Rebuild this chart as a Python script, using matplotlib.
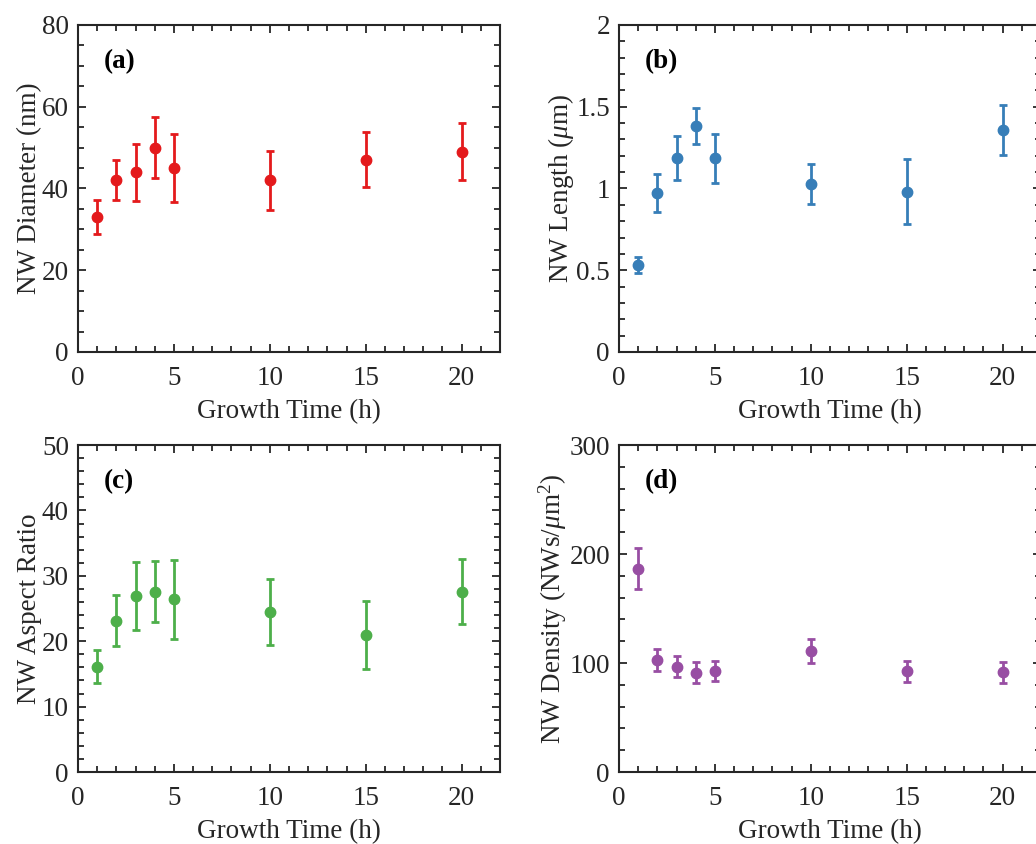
import matplotlib
matplotlib.use("Agg")
from matplotlib import pyplot as plt
from matplotlib.ticker import MultipleLocator

plt.rcParams['font.family'] = ['Liberation Serif', 'DejaVu Serif']
plt.rcParams['mathtext.fontset'] = 'custom'
plt.rcParams['mathtext.rm'] = 'Liberation Serif'
plt.rcParams['mathtext.it'] = 'Liberation Serif:italic'
plt.rcParams['font.size'] = 19.5

time_h = [1, 2, 3, 4, 5, 10, 15, 20]

diameter = [33, 42, 44, 50, 45, 42, 47, 49]
diameter_err = [4.2, 4.9, 7.0, 7.5, 8.4, 7.2, 6.7, 6.9]

length = [0.53, 0.97, 1.185, 1.38, 1.185, 1.025, 0.98, 1.355]
length_err = [0.05, 0.117, 0.133, 0.11, 0.15, 0.123, 0.2, 0.153]

aspect = [16.1, 23.1, 26.9, 27.6, 26.4, 24.4, 20.9, 27.6]
aspect_err = [2.55, 3.9, 5.2, 4.7, 6.05, 5.05, 5.2, 4.97]

density = [186.5, 102.5, 96.7, 91.2, 93.0, 110.8, 92.4, 91.5]
density_err = [19, 10.2, 9.8, 9.3, 9.3, 11.2, 9.8, 9.5]

panels = [
    ("(a)", diameter, diameter_err, "#e41a1c", "NW Diameter (nm)", 80, 20, 5, [0.0753, 0.583]),
    ("(b)", length, length_err, "#377eb8", r"NW Length ($\mu$m)", 2, 0.5, 0.1, [0.5975, 0.583]),
    ("(c)", aspect, aspect_err, "#4daf4a", "NW Aspect Ratio", 50, 10, 2, [0.0753, 0.0853]),
    ("(d)", density, density_err, "#984ea3", r"NW Density (NWs/$\mu$m$^2$)", 300, 100, 20, [0.5975, 0.0853]),
]

fig = plt.figure(figsize=(10.36, 8.44), dpi=100)
ink = "#262626"

for label, vals, errs, color, ylab, ymax, ymaj, ymin, pos in panels:
    ax = fig.add_axes([pos[0], pos[1], 0.4073, 0.3874])
    ax.errorbar(time_h, vals, yerr=errs, fmt='o', color=color, markersize=7.5,
                elinewidth=2, capsize=3, capthick=2)
    ax.set_xlim(0, 22)
    ax.set_ylim(0, ymax)
    ax.xaxis.set_major_locator(MultipleLocator(5))
    ax.xaxis.set_minor_locator(MultipleLocator(1))
    ax.yaxis.set_major_locator(MultipleLocator(ymaj))
    ax.yaxis.set_minor_locator(MultipleLocator(ymin))
    if ymax == 2:
        ax.yaxis.set_major_formatter(plt.FuncFormatter(lambda v, p: f"{v:g}"))
    ax.tick_params(which='both', direction='in', top=True, right=True, colors=ink, width=1.3)
    ax.tick_params(which='major', length=6)
    ax.tick_params(which='minor', length=4)
    ax.tick_params(axis='x', which='major', pad=10)
    ax.tick_params(axis='y', which='major', pad=6.5)
    for s in ax.spines.values():
        s.set_linewidth(1.5)
        s.set_color(ink)
    ax.set_xlabel("Growth Time (h)", color=ink, labelpad=6)
    ax.set_ylabel(ylab, color=ink, labelpad=0)
    ax.text(0.062, 0.887, label, transform=ax.transAxes, fontweight='bold',
            va='center', ha='left', color='black')

fig.savefig("out.png", dpi=100)
